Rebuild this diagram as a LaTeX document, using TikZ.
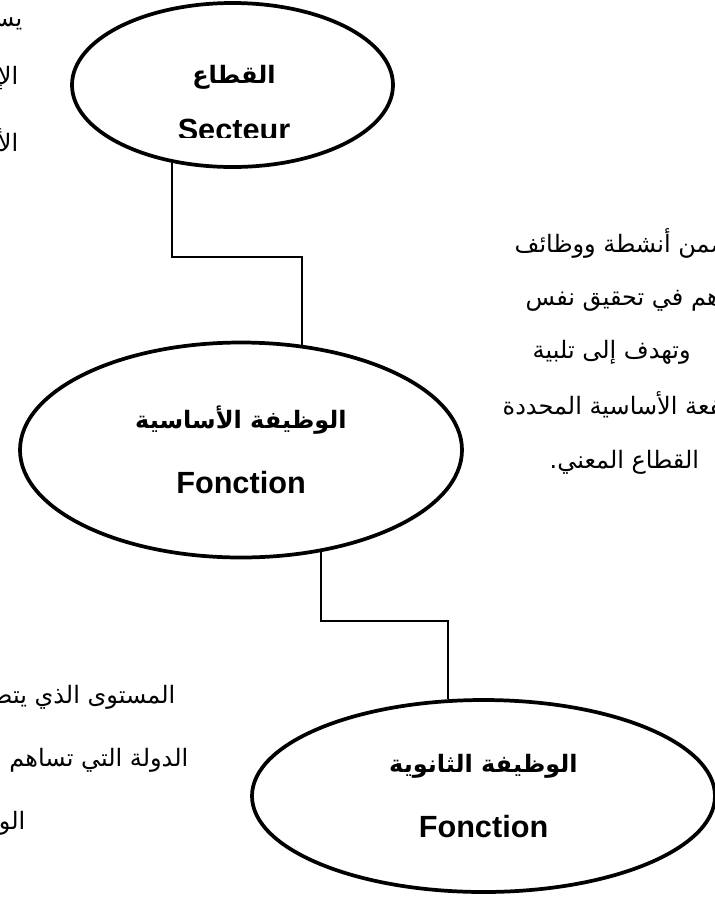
\documentclass[tikz,border=0pt]{standalone}
\usepackage{fontspec}
\setmainfont{Liberation Sans}
\newfontfamily\arabicfont[Script=Arabic]{DejaVu Sans}
\TeXXeTstate=1
\usetikzlibrary{shapes.geometric}
\newcommand\arlab[1]{{\arabicfont\fontsize{18}{49}\selectfont\beginR #1\endR}}

\begin{document}
\begin{tikzpicture}[x=0.75pt,y=-0.75pt]
\tikzstyle{lab}=[inner sep=0pt,align=center,font=\bfseries\fontsize{23}{49}\selectfont]
\tikzstyle{level}=[lab,ellipse,draw,line width=2.8pt,fill=white]
\tikzstyle{para}=[font=\arabicfont\fontsize{18}{22}\selectfont]
\tikzstyle{link}=[line width=1.5pt]

\useasboundingbox (0,0) rectangle (715,901);
\clip (0,0) rectangle (715,901);

% text lines lying behind the ellipses
\node[para,anchor=east] (a1) at (27,23) {\beginR يستخدم\endR};
\node[para,anchor=east] (a2) at (23,78) {\beginR الإنتاج\endR};
\node[para,anchor=east] (a3) at (23,143) {\beginR الأساسي\endR};

\node[para,anchor=west] (b1) at (510,243) {\beginR يتضمن أنشطة ووظائف\endR};
\node[para,anchor=west] (b2) at (521,299) {\beginR تساهم في تحقيق نفس\endR};
\node[para,anchor=west] (b3) at (528,352) {\beginR وتهدف إلى تلبية\endR};
\node[para,anchor=west] (b4) at (498,405) {\beginR المنفعة الأساسية المحددة\endR};
\node[para,anchor=west] (b5) at (545,462) {\beginR القطاع المعني.\endR};

\node[para,anchor=east] (c1) at (180,697) {\beginR المستوى الذي يتضمن\endR};
\node[para,anchor=east] (c2) at (193,760) {\beginR الدولة التي تساهم في\endR};
\node[para,anchor=east] (c3) at (30,823) {\beginR الوسيلة\endR};

% the three levels
\node[level,minimum width=240.75pt,minimum height=123pt] (sec) at (232.5,85) {};
\node[lab] (secAr) at (234,77) {\arlab{القطاع}};
\begin{scope}
\clip (72,0) rectangle (393,137);
\node[lab,anchor=base] (secFr) at (234,140) {Secteur};
\end{scope}

\node[level,minimum width=331.5pt,minimum height=161.25pt] (fp) at (241,450)
  {\arlab{الوظيفة الأساسية}\\Fonction};
\node[level,minimum width=347.25pt,minimum height=144pt] (sp) at (483.5,796)
  {\arlab{الوظيفة الثانوية}\\Fonction};

\draw[link] (sec.232) -- ++(0,94) -| (fp.60);
\draw[link] (fp.308) -- ++(0,69) -| (sp.110.5);

\end{tikzpicture}
\end{document}
